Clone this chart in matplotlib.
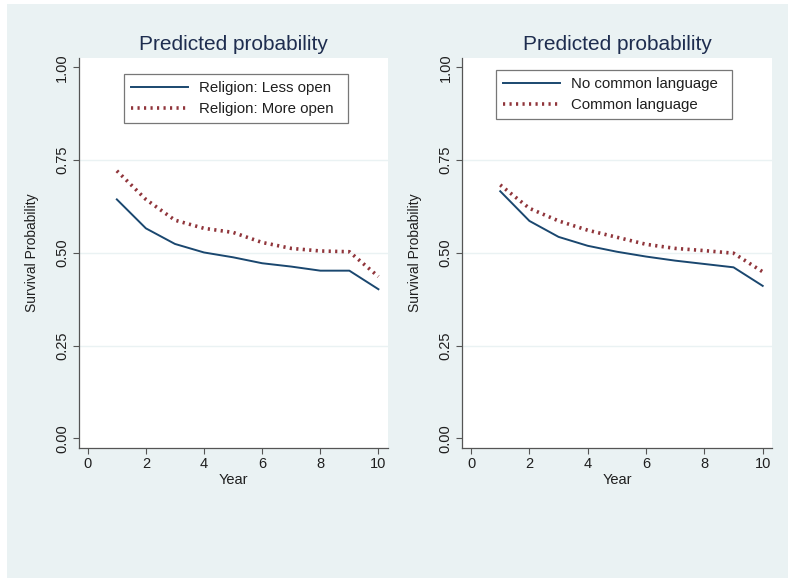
import matplotlib
matplotlib.use('Agg')
import matplotlib.pyplot as plt
from matplotlib.patches import Rectangle

plt.rcParams['font.family'] = ['Liberation Sans', 'DejaVu Sans']

years = [1, 2, 3, 4, 5, 6, 7, 8, 9, 10]

# Religion openness
religion_less = [0.644, 0.566, 0.524, 0.501, 0.488, 0.472, 0.463, 0.452, 0.452, 0.402]
religion_more = [0.721, 0.644, 0.588, 0.566, 0.555, 0.528, 0.512, 0.505, 0.503, 0.436]

# Shared language
lang_none = [0.666, 0.586, 0.543, 0.519, 0.503, 0.490, 0.479, 0.470, 0.461, 0.411]
lang_common = [0.683, 0.620, 0.586, 0.561, 0.542, 0.523, 0.512, 0.506, 0.499, 0.449]

yticks = [0.0, 0.25, 0.5, 0.75, 1.0]
xticks = [0, 2, 4, 6, 8, 10]

NAVY = '#1a476f'
MAROON = '#90353b'
BG = '#eaf2f3'
TEXT = '#1f1f1f'

fig = plt.figure(figsize=(7.88, 5.78), dpi=100, facecolor='white')
fig.patches.append(Rectangle((7 / 788, 0), 1, 574 / 578, transform=fig.transFigure,
                             facecolor=BG, edgecolor='none', zorder=-10))

panels = [
    (0.1003, 0.3921, religion_less, religion_more,
     'Religion: Less open', 'Religion: More open', (124, 74, 348, 124)),
    (0.5867, 0.3934, lang_none, lang_common,
     'No common language', 'Common language', (496, 70, 732, 121)),
]

for left, width, solid, dotted, lab1, lab2, box in panels:
    ax = fig.add_axes([left, 0.2254, width, 0.6743])
    ax.set_facecolor('white')
    ax.plot(years, solid, color=NAVY, lw=1.4, label=lab1, zorder=3)
    ax.plot(years, dotted, color=MAROON, lw=2.6, linestyle=(0, (0.6, 1.2)),
            label=lab2, zorder=3)

    ax.set_xlim(-0.3, 10.33)
    ax.set_ylim(-0.025, 1.025)
    ax.set_xticks(xticks)
    ax.set_yticks(yticks)
    ax.set_yticklabels([f'{v:.2f}' for v in yticks], rotation=90, va='center')
    for v in [0.25, 0.5, 0.75]:
        ax.axhline(v, color=BG, lw=1.0, zorder=1)

    for side in ['top', 'right']:
        ax.spines[side].set_visible(False)
    for side in ['left', 'bottom']:
        ax.spines[side].set_color('#555555')
        ax.spines[side].set_linewidth(0.9)
    ax.tick_params(direction='out', length=4, width=0.8, color='#555555',
                   labelsize=10.5, labelcolor=TEXT, pad=3)

    ax.set_xlabel('Year', fontsize=10.5, color=TEXT, labelpad=1)
    ax.set_ylabel('Survival Probability', fontsize=10, color=TEXT, labelpad=12)
    ax.set_title('Predicted probability', fontsize=15, color='#1e2d4f', pad=6)

    # legend box placed in pixel coordinates of the figure
    x0, y0, x1, y1 = box
    leg = ax.legend(loc='upper left',
                    bbox_to_anchor=(x0 / 788, 1 - y1 / 578, (x1 - x0) / 788, (y1 - y0) / 578),
                    bbox_transform=fig.transFigure, mode='expand',
                    fontsize=10.8, frameon=True, fancybox=False, handlelength=3.8,
                    handletextpad=0.75, borderpad=0.45, labelspacing=0.5,
                    borderaxespad=0)
    leg.get_frame().set_edgecolor('#555555')
    leg.get_frame().set_linewidth(0.9)
    for t in leg.get_texts():
        t.set_color(TEXT)

fig.savefig('out.png', dpi=100, facecolor=fig.get_facecolor())
